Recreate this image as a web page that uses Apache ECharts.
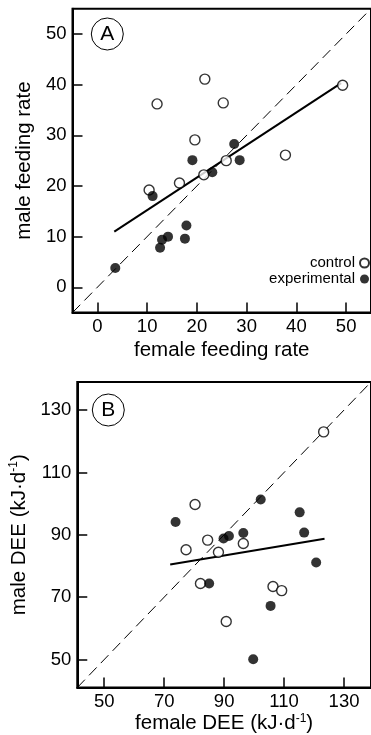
<!DOCTYPE html>
<html><head><meta charset="utf-8">
<script src="https://cdn.jsdelivr.net/npm/echarts@6/dist/echarts.min.js"></script>
<style>html,body{margin:0;padding:0;background:#fff}#c{width:371px;height:735px}</style>
</head><body><div id="c"></div>
<script>
// Panel A: feeding rates
const aTicks = [0, 10, 20, 30, 40, 50];
const aControl = [[12.0,36.2],[21.6,41.1],[25.3,36.4],[19.6,29.1],[49.3,39.9],[37.8,26.1],[25.9,25.0],[21.4,22.2],[16.5,20.6],[10.4,19.2]];
const aExperimental = [[19.1,25.1],[27.5,28.3],[28.6,25.1],[23.1,22.7],[11.1,18.0],[17.9,12.2],[17.6,9.6],[14.2,10.0],[13.0,9.4],[12.6,7.8],[3.6,3.8]];
const aFit = [[3.4,11.0],[49.0,40.3]];
const aIdentity = [[-5,-5],[55,55]];
// Panel B: DEE
const bTicks = [50, 70, 90, 110, 130];
const bControl = [[123.2,123.0],[80.3,99.7],[84.5,88.3],[77.3,85.2],[88.1,84.4],[96.4,87.2],[82.1,74.4],[106.3,73.4],[109.2,72.1],[90.7,62.2]];
const bExperimental = [[73.8,94.1],[102.2,101.3],[115.2,97.2],[116.7,90.7],[96.4,90.6],[89.8,88.8],[91.6,89.6],[85.0,74.4],[120.7,81.1],[105.5,67.2],[99.7,50.1]];
const bFit = [[72.0,80.5],[123.5,88.7]];
const bIdentity = [[41,41],[139,139]];

const FONT = 'Liberation Sans, Arial, Helvetica, sans-serif';
const chart = echarts.init(document.getElementById('c'), null, {renderer: 'canvas'});

function axis(min, max, ticks, name, nameGap, isY) {
  return {
    type: 'value', min: min, max: max,
    name: name, nameLocation: 'middle', nameGap: nameGap,
    nameTextStyle: {fontFamily: FONT, fontSize: 20.5, color: '#000',
      rich: {a: {fontFamily: FONT, fontSize: 20.5, color: '#000'},
             s: {fontFamily: FONT, fontSize: 12, color: '#000', padding: [0, 0, 10, 0]}}},
    axisLine: {show: true, onZero: false, lineStyle: {color: '#000', width: 2}},
    axisTick: {show: true, inside: true, length: 10, customValues: ticks, lineStyle: {color: '#000', width: 1.5}},
    axisLabel: {show: true, customValues: ticks, fontFamily: FONT, fontSize: 18.5, color: '#000', margin: isY ? 6 : 5},
    splitLine: {show: false}
  };
}

const openStyle = {color: '#fff', borderColor: '#000', borderWidth: 1.4};
const fillStyle = {color: '#000', borderColor: '#000', borderWidth: 0};

chart.setOption({
  animation: false,
  backgroundColor: '#fff',
  grid: [
    {left: 72.5, top: 8.7, width: 302.7, height: 303.9, show: true, borderColor: '#000', borderWidth: 2, backgroundColor: 'transparent'},
    {left: 72, top: 382, width: 306, height: 307, show: true, borderColor: '#000', borderWidth: 2, backgroundColor: 'transparent'}
  ],
  xAxis: [
    Object.assign(axis(-5, 55, aTicks, 'female feeding rate', 27, false), {gridIndex: 0}),
    Object.assign(axis(41, 139, bTicks, '{a|female DEE (kJ·d}{s|-1}{a|)}', 24, false), {gridIndex: 1})
  ],
  yAxis: [
    Object.assign(axis(-5, 55, aTicks, 'male feeding rate', 36, true), {gridIndex: 0}),
    Object.assign(axis(41, 139, bTicks, '{a|male DEE (kJ·d}{s|-1}{a|)}', 44, true), {gridIndex: 1})
  ],
  legend: {
    data: ['control', 'experimental'], orient: 'vertical', right: 1, top: 255, align: 'right',
    padding: 0, itemWidth: 9, itemHeight: 9, itemGap: 0, icon: 'circle',
    textStyle: {fontFamily: FONT, fontSize: 15, lineHeight: 16, color: '#000'}
  },
  graphic: [
    {type: 'circle', shape: {cx: 107.3, cy: 34, r: 16}, style: {fill: '#fff', stroke: '#000', lineWidth: 1}, z: 10},
    {type: 'text', x: 107.3, y: 34, style: {text: 'A', fontFamily: FONT, fontSize: 21, fill: '#000', align: 'center', verticalAlign: 'middle'}, z: 11},
    {type: 'circle', shape: {cx: 108.3, cy: 410, r: 16}, style: {fill: '#fff', stroke: '#000', lineWidth: 1}, z: 10},
    {type: 'text', x: 108.3, y: 410, style: {text: 'B', fontFamily: FONT, fontSize: 21, fill: '#000', align: 'center', verticalAlign: 'middle'}, z: 11}
  ],
  series: [
    {type: 'line', xAxisIndex: 0, yAxisIndex: 0, data: aIdentity, symbol: 'none', lineStyle: {color: '#000', width: 1, type: [11, 6]}, z: 1},
    {type: 'line', xAxisIndex: 0, yAxisIndex: 0, data: aFit, symbol: 'none', lineStyle: {color: '#000', width: 2}, z: 2},
    {name: 'control', type: 'scatter', xAxisIndex: 0, yAxisIndex: 0, data: aControl, symbol: 'circle', symbolSize: 10, itemStyle: openStyle, z: 3},
    {name: 'experimental', type: 'scatter', xAxisIndex: 0, yAxisIndex: 0, data: aExperimental, symbol: 'circle', symbolSize: 10, itemStyle: fillStyle, z: 3},
    {type: 'line', xAxisIndex: 1, yAxisIndex: 1, data: bIdentity, symbol: 'none', lineStyle: {color: '#000', width: 1, type: [11, 6]}, z: 1},
    {type: 'line', xAxisIndex: 1, yAxisIndex: 1, data: bFit, symbol: 'none', lineStyle: {color: '#000', width: 2}, z: 2},
    {name: 'control', type: 'scatter', xAxisIndex: 1, yAxisIndex: 1, data: bControl, symbol: 'circle', symbolSize: 10, itemStyle: openStyle, z: 3},
    {name: 'experimental', type: 'scatter', xAxisIndex: 1, yAxisIndex: 1, data: bExperimental, symbol: 'circle', symbolSize: 10, itemStyle: fillStyle, z: 3}
  ]
});
</script></body></html>
